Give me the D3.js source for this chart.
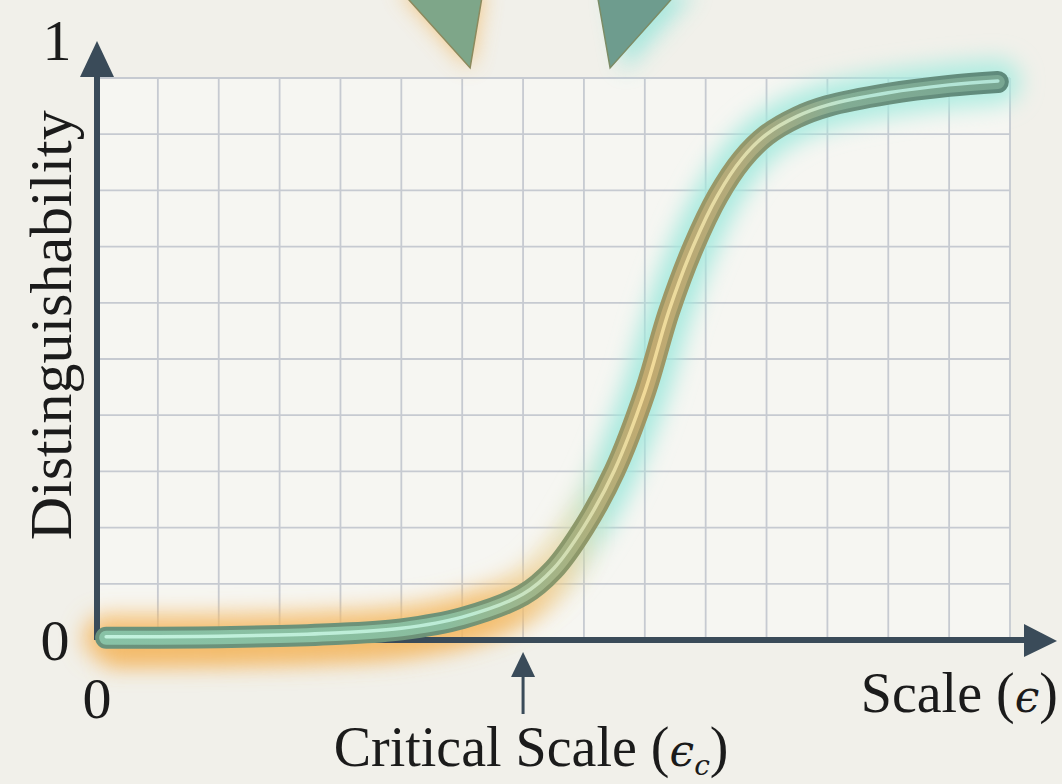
<!DOCTYPE html>
<html>
<head>
<meta charset="utf-8">
<script src="https://cdn.jsdelivr.net/npm/d3@7"></script>
<style>
  html, body { margin: 0; padding: 0; background: #f1f0ea; }
  svg { display: block; }
</style>
</head>
<body>
<div id="chart_container"></div>
<script>
// curve: scale in grid units (0..15), distinguishability 0..1
const scale_values = [0.15, 1, 2, 3, 4, 5, 6, 7, 7.5, 8, 8.5, 9, 9.4, 9.8, 10.2, 10.6, 11, 11.5, 12, 13, 14, 14.8];
const distinguishability = [0.004, 0.004, 0.005, 0.007, 0.011, 0.019, 0.039, 0.08, 0.125, 0.2, 0.3, 0.44, 0.585, 0.7, 0.79, 0.855, 0.898, 0.93, 0.95, 0.972, 0.986, 0.993];
const critical_scale = 7;
const y_tick_labels = ["0", "1"];
const x_tick_labels = ["0"];
const x_label = "Scale (";
const y_label = "Distinguishability";
const critical_label = "Critical Scale (";
// the two pointer triangles at the top, in chart units [x, y]
const pointer_left = [[4.95, 1.16], [6.35, 1.16], [6.13, 1.018]];
const pointer_right = [[8.2, 1.16], [9.6, 1.16], [8.43, 1.018]];

const margin = { top: 78, right: 52, bottom: 144, left: 97 },
    width = 1062 - margin.left - margin.right,
    height = 784 - margin.top - margin.bottom;

const svg_root = d3.select("#chart_container")
    .append("svg")
    .attr("width", width + margin.left + margin.right)
    .attr("height", height + margin.top + margin.bottom);

svg_root.append("rect")
    .attr("width", 1062).attr("height", 784)
    .attr("fill", "#f1f0ea");

const svg = svg_root.append("g")
    .attr("transform", `translate(${margin.left}, ${margin.top})`);

const x = d3.scaleLinear().domain([0, 15]).range([0, width]);
const y = d3.scaleLinear().domain([0, 1]).range([height, 0]);

const defs = svg_root.append("defs");

function addBlur(id, sd) {
    defs.append("filter")
        .attr("id", id)
        .attr("filterUnits", "userSpaceOnUse")
        .attr("x", -200).attr("y", -200).attr("width", 1500).attr("height", 1200)
        .append("feGaussianBlur").attr("stdDeviation", sd);
}
addBlur("blur_big", 11);
addBlur("blur_small", 6);

function addGradient(id, stops) {
    const g = defs.append("linearGradient")
        .attr("id", id)
        .attr("gradientUnits", "userSpaceOnUse")
        .attr("x1", 0).attr("x2", width).attr("y1", 0).attr("y2", 0);
    stops.forEach(s => g.append("stop").attr("offset", s[0]).attr("stop-color", s[1]).attr("stop-opacity", s[2] === undefined ? 1 : s[2]));
}

addGradient("glow_grad", [[0, "#f5b862", 0.85], [0.42, "#f4bb66", 0.85], [0.5, "#e9d49a", 0.6], [0.56, "#9fe8dc", 0.9], [1, "#a6ecdf", 0.85]]);
addGradient("orange_grad", [[0, "#f4b45a", 0.7], [0.45, "#f4b45a", 0.6], [0.55, "#f4b45a", 0]]);
addGradient("edge_grad", [[0, "#6a927c"], [0.38, "#6e9278"], [0.52, "#8c986a"], [0.6, "#a09664"], [0.7, "#96986a"], [0.8, "#6e927e"], [1, "#5e8a7c"]]);
addGradient("body_grad", [[0, "#88c2a6"], [0.38, "#8abd9e"], [0.52, "#a8b282"], [0.6, "#c2aa70"], [0.7, "#b2aa7a"], [0.82, "#82ac94"], [1, "#78a692"]]);
addGradient("shine_grad", [[0, "#c2f2de"], [0.4, "#bcecd6"], [0.53, "#d6dcae"], [0.6, "#f2da98"], [0.7, "#e2dca8"], [0.84, "#b6e6d6"], [1, "#b2e4d6"]]);

// plot area
svg.append("rect")
    .attr("width", width).attr("height", height)
    .attr("fill", "#f6f6f2");

// grid
svg.append("g").selectAll("line")
    .data(d3.range(1, 16))
    .join("line")
    .attr("x1", d => x(d)).attr("x2", d => x(d))
    .attr("y1", 0).attr("y2", height)
    .attr("stroke", "#c6cad1").attr("stroke-width", 1.8);

svg.append("g").selectAll("line")
    .data(d3.range(1, 11).map(i => i / 10))
    .join("line")
    .attr("x1", 0).attr("x2", width)
    .attr("y1", d => y(d)).attr("y2", d => y(d))
    .attr("stroke", "#c6cad1").attr("stroke-width", 1.8);

// pointer triangles (top)
const tri = pts => pts.map(p => [x(p[0]), y(p[1])].join(",")).join(" ");
svg.append("polygon").attr("points", tri(pointer_left))
    .attr("fill", "#f3b860").attr("opacity", 0.8).attr("filter", "url(#blur_big)");
svg.append("polygon").attr("points", tri(pointer_right))
    .attr("fill", "#9fe6dc").attr("opacity", 0.9).attr("filter", "url(#blur_big)")
    .attr("transform", "translate(14,4)");
svg.append("polygon").attr("points", tri(pointer_left))
    .attr("fill", "#7ea689").attr("stroke", "#8c8a5e").attr("stroke-width", 1.5);
svg.append("polygon").attr("points", tri(pointer_right))
    .attr("fill", "#6e9c8e").attr("stroke", "#7c8c66").attr("stroke-width", 1.5);

const data = scale_values.map((s, i) => ({ s: s, d: distinguishability[i] }));
const line = d3.line()
    .x(d => x(d.s))
    .y(d => y(d.d))
    .curve(d3.curveCatmullRom.alpha(0.5));

// glow behind the curve
svg.append("path").datum(data)
    .attr("d", line)
    .attr("fill", "none")
    .attr("stroke", "url(#glow_grad)")
    .attr("stroke-width", 46)
    .attr("stroke-linecap", "round")
    .attr("filter", "url(#blur_big)");
svg.append("path").datum(data)
    .attr("d", line)
    .attr("fill", "none")
    .attr("stroke", "url(#orange_grad)")
    .attr("stroke-width", 30)
    .attr("transform", "translate(0,14)")
    .attr("filter", "url(#blur_big)");

// axes
const axis_color = "#3a4b59";
svg.append("line")
    .attr("x1", 0).attr("x2", 0)
    .attr("y1", height).attr("y2", -2)
    .attr("stroke", axis_color).attr("stroke-width", 6);
svg.append("path")
    .attr("d", `M${-17},${-1} L0,${-37} L17,${-1} Z`)
    .attr("fill", axis_color);

svg.append("line")
    .attr("x1", 0).attr("x2", width + 16)
    .attr("y1", height).attr("y2", height)
    .attr("stroke", axis_color).attr("stroke-width", 6);
svg.append("path")
    .attr("d", `M${width + 14},${height - 16} L${width + 47},${height + 1} L${width + 14},${height + 17} Z`)
    .attr("fill", axis_color);

// the curve: edge, body, highlight
svg.append("path").datum(data)
    .attr("d", line)
    .attr("fill", "none")
    .attr("stroke", "url(#edge_grad)")
    .attr("stroke-width", 22)
    .attr("stroke-linecap", "round");
svg.append("path").datum(data)
    .attr("d", line)
    .attr("fill", "none")
    .attr("stroke", "url(#body_grad)")
    .attr("stroke-width", 14)
    .attr("stroke-linecap", "round");
svg.append("path").datum(data)
    .attr("d", line)
    .attr("fill", "none")
    .attr("stroke", "url(#shine_grad)")
    .attr("stroke-width", 3.5)
    .attr("stroke-linecap", "round")
    .attr("transform", "translate(0,-1)");

// critical scale marker
const cx = x(critical_scale);
svg.append("line")
    .attr("x1", cx).attr("x2", cx)
    .attr("y1", height + 30).attr("y2", height + 74)
    .attr("stroke", axis_color).attr("stroke-width", 3);
svg.append("path")
    .attr("d", `M${cx - 12},${height + 37} L${cx},${height + 12} L${cx + 12},${height + 37} Z`)
    .attr("fill", axis_color);

// text
const serif = "'Liberation Serif', 'Times New Roman', serif";
const text_color = "#1b1b1b";

svg.append("text")
    .attr("x", -40).attr("y", y(1) - 18)
    .attr("text-anchor", "middle")
    .style("font-family", serif).style("font-size", "58px").attr("fill", text_color)
    .text(y_tick_labels[1]);
svg.append("text")
    .attr("x", -42).attr("y", y(0) + 20)
    .attr("text-anchor", "middle")
    .style("font-family", serif).style("font-size", "58px").attr("fill", text_color)
    .text(y_tick_labels[0]);
svg.append("text")
    .attr("x", x(0)).attr("y", height + 78)
    .attr("text-anchor", "middle")
    .style("font-family", serif).style("font-size", "58px").attr("fill", text_color)
    .text(x_tick_labels[0]);

svg.append("text")
    .attr("transform", `translate(${-26}, ${y(0.56)}) rotate(-90)`)
    .attr("text-anchor", "middle")
    .style("font-family", serif).style("font-size", "60px").attr("fill", text_color)
    .text(y_label);

const xl = svg.append("text")
    .attr("x", width + 48).attr("y", height + 72)
    .attr("text-anchor", "end")
    .style("font-family", serif).style("font-size", "56px").attr("fill", text_color);
xl.append("tspan").text(x_label);
xl.append("tspan").style("font-family", "'DejaVu Serif', serif").style("font-style", "italic").style("font-size", "44px").text("\u03F5");
xl.append("tspan").text(")");

const cl = svg.append("text")
    .attr("x", cx + 8).attr("y", height + 126)
    .attr("text-anchor", "middle")
    .style("font-family", serif).style("font-size", "56px").attr("fill", text_color);
cl.append("tspan").text(critical_label);
cl.append("tspan").style("font-family", "'DejaVu Serif', serif").style("font-style", "italic").style("font-size", "44px").text("\u03F5");
cl.append("tspan").style("font-family", "'DejaVu Serif', serif").style("font-style", "italic").style("font-size", "28px").attr("dy", 9).text("c");
cl.append("tspan").attr("dy", -9).text(")");
</script>
</body>
</html>
